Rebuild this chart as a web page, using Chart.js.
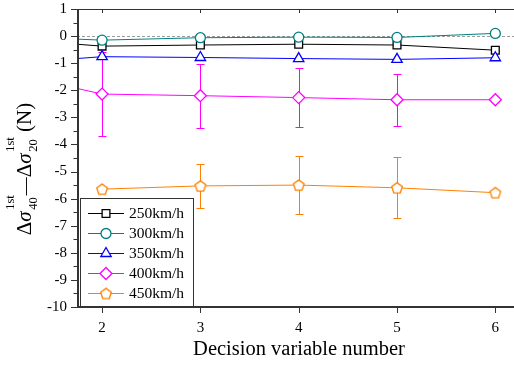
<!DOCTYPE html>
<html><head><meta charset="utf-8">
<script src="https://cdn.jsdelivr.net/npm/chart.js@4/dist/chart.umd.min.js"></script>
<style>html,body{margin:0;padding:0;background:#fff}#wrap{width:514px;height:365px;position:relative}</style>
</head><body><div id="wrap"><canvas id="c" width="514" height="365"></canvas></div>
<script>
// ---- data ----
const xValues = [1, 2, 3, 4, 5, 6];
const seriesNames = ['250km/h', '300km/h', '350km/h', '400km/h', '450km/h'];
const s250 = [-0.10, -0.37, -0.33, -0.30, -0.33, -0.52];
const s300 = [0.00, -0.15, -0.06, -0.04, -0.05, 0.10];
const s350 = [-1.03, -0.76, -0.79, -0.83, -0.86, -0.80];
const s400 = [-1.32, -2.14, -2.20, -2.27, -2.35, -2.35];
const s450 = [null, -5.65, -5.53, -5.50, -5.60, -5.78];
const err400 = [0, 1.56, 1.18, 1.10, 0.96, 0];
const err450 = [0, 0, 0.82, 1.07, 1.13, 0];
const xTickValues = [2, 3, 4, 5, 6];
const yTickValues = [-10, -9, -8, -7, -6, -5, -4, -3, -2, -1, 0, 1];
const xTitle = 'Decision variable number';

const SERIF = '"Liberation Serif", "Times New Roman", serif';
const colors = ['#000000', '#008080', '#0000ff', '#ff00ff', '#ff8000'];

// pentagon marker canvas
function pentagon(color) {
  const c = document.createElement('canvas');
  const s = 14; c.width = s; c.height = s;
  const g = c.getContext('2d');
  const r = 5.6, cx = s / 2, cy = s / 2 + 0.5;
  g.beginPath();
  for (let i = 0; i < 5; i++) {
    const a = -Math.PI / 2 + i * 2 * Math.PI / 5;
    const px = cx + r * Math.cos(a), py = cy + r * Math.sin(a);
    i ? g.lineTo(px, py) : g.moveTo(px, py);
  }
  g.closePath();
  g.fillStyle = '#fff'; g.fill();
  g.strokeStyle = color; g.lineWidth = 1.3; g.stroke();
  return c;
}
const styles = ['rect', 'circle', 'triangle', 'rectRot', pentagon(colors[4])];
const radii = [5.5, 5, 6, 6, 5];
const seriesData = [s250, s300, s350, s400, s450];
const seriesErr = [null, null, null, err400, err450];

const datasets = seriesData.map((arr, i) => ({
  label: seriesNames[i],
  data: xValues.map((x, j) => ({ x: x, y: arr[j] })).filter(p => p.y !== null),
  borderColor: colors[i],
  backgroundColor: '#ffffff',
  pointBackgroundColor: '#ffffff',
  pointBorderColor: colors[i],
  pointBorderWidth: 1.3,
  borderWidth: 1,
  pointStyle: styles[i],
  pointRadius: radii[i],
  tension: 0,
  errs: seriesErr[i] ? xValues.map((x, j) => ({ x: x, y: arr[j], e: seriesErr[i][j] })) : null,
  order: 5 - i
}));

const framePlugin = {
  id: 'frame',
  beforeDatasetsDraw(chart) {
    const { ctx, chartArea: a, scales: { x, y } } = chart;
    ctx.save();
    ctx.beginPath(); ctx.rect(a.left, a.top, a.right - a.left, a.bottom - a.top); ctx.clip();
    // dashed zero line
    ctx.strokeStyle = '#9a9a9a'; ctx.lineWidth = 1; ctx.setLineDash([3, 2]);
    const y0 = Math.round(y.getPixelForValue(0)) + 0.5;
    ctx.beginPath(); ctx.moveTo(a.left, y0); ctx.lineTo(a.right, y0); ctx.stroke();
    ctx.setLineDash([]);
    // error bars
    chart.data.datasets.forEach((ds) => {
      if (!ds.errs) return;
      ctx.strokeStyle = ds.borderColor; ctx.lineWidth = 1;
      ds.errs.forEach(p => {
        if (!p.e || p.y === null) return;
        const px = Math.round(x.getPixelForValue(p.x)) + 0.5;
        const pt = Math.round(y.getPixelForValue(p.y + p.e)) + 0.5;
        const pb = Math.round(y.getPixelForValue(p.y - p.e)) + 0.5;
        ctx.beginPath();
        ctx.moveTo(px, pt); ctx.lineTo(px, pb);
        ctx.moveTo(px - 4, pt); ctx.lineTo(px + 4, pt);
        ctx.moveTo(px - 4, pb); ctx.lineTo(px + 4, pb);
        ctx.stroke();
      });
    });
    ctx.restore();
  },
  afterDraw(chart) {
    const { ctx, chartArea: a, scales: { x, y } } = chart;
    ctx.save();
    ctx.strokeStyle = '#333'; 
    // top border
    ctx.lineWidth = 1;
    ctx.beginPath(); ctx.moveTo(a.left, a.top + 0.5); ctx.lineTo(a.right, a.top + 0.5); ctx.stroke();
    // left & bottom axes
    ctx.lineWidth = 2;
    ctx.beginPath(); ctx.moveTo(a.left + 1, a.top); ctx.lineTo(a.left + 1, a.bottom + 1); ctx.stroke();
    ctx.beginPath(); ctx.moveTo(a.left, a.bottom); ctx.lineTo(a.right, a.bottom); ctx.stroke();
    ctx.lineWidth = 1;
    // y ticks: major + minor (outward)
    for (let v = -10; v <= 1.001; v += 0.5) {
      const py = Math.round(y.getPixelForValue(v)) + 0.5;
      const major = Math.abs(v - Math.round(v)) < 1e-6;
      ctx.beginPath(); ctx.moveTo(a.left, py); ctx.lineTo(a.left - (major ? 6 : 3.5), py); ctx.stroke();
    }
    // x ticks bottom (outward) and top (inward)
    xTickValues.forEach(v => {
      const px = Math.round(x.getPixelForValue(v)) + 0.5;
      ctx.beginPath(); ctx.moveTo(px, a.bottom); ctx.lineTo(px, a.bottom + 6); ctx.stroke();
      ctx.beginPath(); ctx.moveTo(px, a.top); ctx.lineTo(px, a.top + 4); ctx.stroke();
    });
    // x title
    ctx.fillStyle = '#000'; ctx.font = '20.5px ' + SERIF;
    ctx.textAlign = 'center'; ctx.textBaseline = 'alphabetic';
    ctx.fillText(xTitle, 299, 355);
    // y title (rotated, with sub/superscripts)
    ctx.translate(31, 169); ctx.rotate(-Math.PI / 2);
    const big = '21px ' + SERIF, bigI = 'italic 21px ' + SERIF, small = '12.5px ' + SERIF;
    const parts = [
      { t: 'Δ', f: big }, { t: 'σ', f: bigI }, { sup: '1st', sub: '40' },
      { t: '\u2014', f: '18px ' + SERIF },
      { t: 'Δ', f: big }, { t: 'σ', f: bigI }, { sup: '1st', sub: '20' },
      { t: ' (N)', f: big }
    ];
    let total = 0;
    parts.forEach(p => {
      if (p.t !== undefined) { ctx.font = p.f; p.w = ctx.measureText(p.t).width; }
      else { ctx.font = small; p.w = Math.max(ctx.measureText(p.sup).width, ctx.measureText(p.sub).width) + 1.5; }
      total += p.w;
    });
    let cx = -total / 2;
    ctx.textAlign = 'left';
    parts.forEach(p => {
      if (p.t !== undefined) { ctx.font = p.f; ctx.fillText(p.t, cx, 0); }
      else { ctx.font = small; ctx.fillText(p.sup, cx + 1.5, -17); ctx.fillText(p.sub, cx + 1.5, 6); }
      cx += p.w;
    });
    ctx.restore();
    // legend
    ctx.save();
    const lx = 80.5, ly = 198.5, lw = 113, lh = 108;
    ctx.fillStyle = '#fff'; ctx.fillRect(lx, ly, lw, lh);
    ctx.strokeStyle = '#333'; ctx.lineWidth = 1; ctx.strokeRect(lx, ly, lw, lh);
    chart.data.datasets.forEach((ds, i) => {
      const yy = 213 + i * 20;
      ctx.strokeStyle = ds.borderColor; ctx.lineWidth = 1;
      ctx.beginPath(); ctx.moveTo(88, yy + 0.5); ctx.lineTo(124, yy + 0.5); ctx.stroke();
      ctx.fillStyle = '#fff'; ctx.strokeStyle = ds.pointBorderColor; ctx.lineWidth = ds.pointBorderWidth;
      Chart.helpers.drawPoint(ctx, { pointStyle: ds.pointStyle, radius: ds.pointRadius, rotation: 0, borderWidth: ds.pointBorderWidth }, 106, yy + 0.5);
      ctx.fillStyle = '#000'; ctx.font = '15.5px ' + SERIF; ctx.textAlign = 'left'; ctx.textBaseline = 'middle';
      ctx.fillText(ds.label, 129, yy + 1);
    });
    ctx.restore();
  }
};

new Chart(document.getElementById('c'), {
  type: 'line',
  data: { datasets },
  options: {
    responsive: false, animation: false, devicePixelRatio: 1,
    layout: { autoPadding: false, padding: { top: 9, right: 0, left: 0, bottom: 0 } },
    plugins: { legend: { display: false }, tooltip: { enabled: false } },
    scales: {
      x: {
        type: 'linear', min: 1.745, max: 6.19,
        afterBuildTicks: s => { s.ticks = xTickValues.map(v => ({ value: v })); },
        afterFit: s => { s.height = 58; s.paddingLeft = 0; s.paddingRight = 0; s.paddingTop = 0; s.paddingBottom = 0; },
        grid: { display: false, drawTicks: false }, border: { display: false },
        ticks: { color: '#000', font: { family: SERIF, size: 15 }, padding: 12, maxRotation: 0 }
      },
      y: {
        type: 'linear', min: -10, max: 1,
        afterBuildTicks: s => { s.ticks = yTickValues.map(v => ({ value: v })); },
        afterFit: s => { s.width = 77; s.paddingLeft = 0; s.paddingRight = 0; s.paddingTop = 0; s.paddingBottom = 0; },
        grid: { display: false, drawTicks: false }, border: { display: false },
        ticks: { color: '#000', font: { family: SERIF, size: 15 }, padding: 10 }
      }
    }
  },
  plugins: [framePlugin]
});
</script></body></html>
